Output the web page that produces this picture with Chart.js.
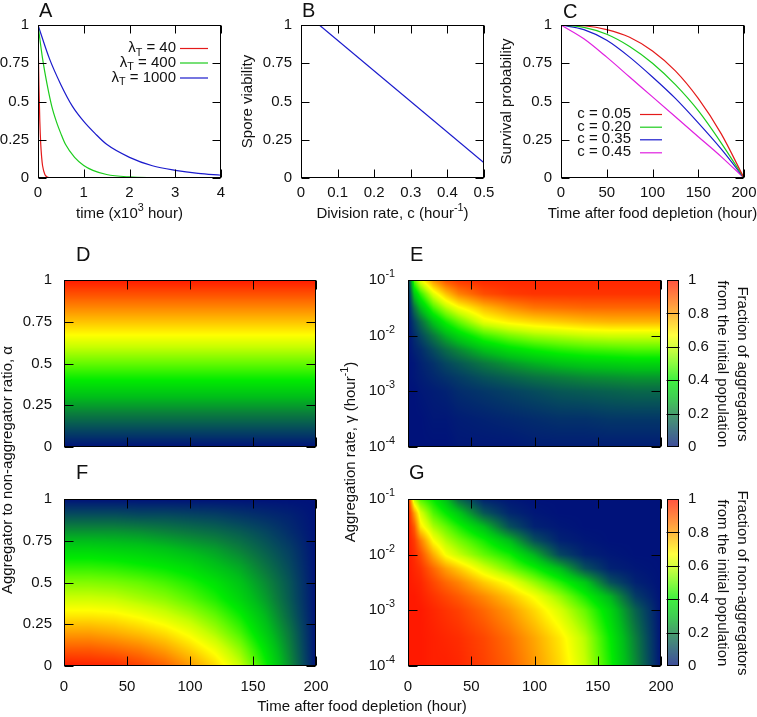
<!DOCTYPE html>
<html>
<head>
<meta charset="utf-8">
<script src="https://cdn.jsdelivr.net/npm/chart.js@4.4.0/dist/chart.umd.min.js"></script>
<style>
  body { margin: 0; background: #fff; }
  #wrap { position: relative; width: 757px; height: 717px; }
  #wrap canvas { position: absolute; left: 0; top: 0; }
</style>
</head>
<body>
<div id="wrap"></div>
<script>
const W = 757, H = 717;
const FONT = '"Liberation Sans", Arial, sans-serif';
const FS = 15;

// ---- A: spore viability vs time (x10^3 hour)
const lambdaT = [40, 400, 1000];
const timeA40 = [0, 0.01, 0.02, 0.04, 0.06, 0.08, 0.1, 0.15, 0.2, 0.25, 0.3];
const viabA40 = [1, 0.78, 0.61, 0.37, 0.22, 0.135, 0.08, 0.023, 0.007, 0.002, 0];
const timeA400 = [0, 0.1, 0.2, 0.3, 0.4, 0.5, 0.6, 0.8, 1, 1.2, 1.5, 2, 2.5, 3];
const viabA400 = [1, 0.78, 0.61, 0.47, 0.37, 0.29, 0.22, 0.135, 0.082, 0.05, 0.023, 0.007, 0.002, 0];
const timeA1000 = [0, 0.25, 0.5, 0.75, 1, 1.25, 1.5, 2, 2.5, 3, 3.5, 4];
const viabA1000 = [1, 0.78, 0.61, 0.47, 0.37, 0.29, 0.22, 0.135, 0.08, 0.05, 0.03, 0.018];

// ---- B: spore viability vs division rate
const divRateB = [0.05, 0.5];
const viabB = [1, 0.1];

// ---- C: survival probability vs time after food depletion
const divRatesC = ['0.05', '0.20', '0.35', '0.45'];
const timeC = [0, 25, 50, 75, 100, 125, 150, 175, 200];
const survC05 = [1, 0.995, 0.97, 0.92, 0.83, 0.7, 0.52, 0.29, 0];
const survC20 = [1, 0.985, 0.94, 0.86, 0.75, 0.61, 0.44, 0.23, 0];
const survC35 = [1, 0.97, 0.9, 0.79, 0.66, 0.52, 0.36, 0.19, 0];
const survC45 = [1, 0.91, 0.79, 0.66, 0.53, 0.4, 0.27, 0.14, 0];

// ---- D/F: grids over time x aggregator ratio alpha
const ratioTime = [0, 20, 40, 60, 80, 100, 120, 140, 160, 180, 200];
const ratioAlpha = [0, 0.1, 0.2, 0.3, 0.4, 0.5, 0.6, 0.7, 0.8, 0.9, 1];
const aggFracD = [0, 0.1, 0.2, 0.3, 0.4, 0.5, 0.6, 0.7, 0.8, 0.9, 1];
const nonAggFracF = [
  [1, 0.99, 0.98, 0.94, 0.89, 0.81, 0.72, 0.6, 0.42, 0.22, 0],
  [0.9, 0.9, 0.88, 0.85, 0.8, 0.73, 0.65, 0.54, 0.38, 0.2, 0],
  [0.8, 0.8, 0.78, 0.75, 0.71, 0.65, 0.57, 0.47, 0.33, 0.18, 0],
  [0.7, 0.7, 0.69, 0.66, 0.62, 0.57, 0.5, 0.41, 0.29, 0.15, 0],
  [0.61, 0.61, 0.6, 0.57, 0.54, 0.49, 0.43, 0.35, 0.25, 0.13, 0],
  [0.53, 0.53, 0.52, 0.5, 0.47, 0.43, 0.38, 0.31, 0.22, 0.12, 0],
  [0.44, 0.44, 0.43, 0.41, 0.39, 0.36, 0.31, 0.26, 0.18, 0.1, 0],
  [0.35, 0.35, 0.34, 0.33, 0.31, 0.28, 0.25, 0.2, 0.14, 0.08, 0],
  [0.24, 0.24, 0.24, 0.23, 0.21, 0.19, 0.17, 0.14, 0.1, 0.05, 0],
  [0.12, 0.12, 0.12, 0.11, 0.11, 0.1, 0.09, 0.07, 0.05, 0.03, 0],
  [0, 0, 0, 0, 0, 0, 0, 0, 0, 0, 0]
];

// ---- E/G: grids over time x log10(aggregation rate)
const heatTime = [0, 5, 10, 20, 30, 40, 60, 80, 100, 120, 140, 160, 180, 200];
const heatLogRate = [-4, -3.5, -3, -2.75, -2.5, -2.25, -2, -1.75, -1.5, -1.25, -1];
const aggFracE = [
  [0, 0, 0, 0, 0, 0.01, 0.01, 0.01, 0.02, 0.02, 0.02, 0.02, 0.02, 0.02],
  [0, 0, 0, 0.01, 0.01, 0.02, 0.03, 0.04, 0.05, 0.06, 0.06, 0.07, 0.07, 0.07],
  [0, 0, 0.01, 0.02, 0.03, 0.05, 0.07, 0.09, 0.11, 0.13, 0.14, 0.15, 0.16, 0.16],
  [0, 0.01, 0.02, 0.04, 0.06, 0.08, 0.12, 0.15, 0.18, 0.2, 0.22, 0.23, 0.24, 0.24],
  [0, 0.01, 0.03, 0.06, 0.1, 0.13, 0.19, 0.24, 0.28, 0.31, 0.33, 0.34, 0.35, 0.35],
  [0, 0.03, 0.05, 0.11, 0.17, 0.22, 0.31, 0.37, 0.41, 0.44, 0.46, 0.47, 0.48, 0.48],
  [0, 0.05, 0.1, 0.19, 0.28, 0.35, 0.46, 0.52, 0.56, 0.58, 0.6, 0.61, 0.61, 0.61],
  [0, 0.09, 0.17, 0.31, 0.42, 0.5, 0.64, 0.69, 0.72, 0.74, 0.76, 0.77, 0.77, 0.77],
  [0, 0.18, 0.3, 0.47, 0.58, 0.66, 0.76, 0.82, 0.86, 0.87, 0.88, 0.88, 0.88, 0.88],
  [0, 0.32, 0.45, 0.63, 0.75, 0.84, 0.92, 0.95, 0.96, 0.96, 0.96, 0.96, 0.96, 0.96],
  [0, 0.5, 0.65, 0.82, 0.92, 0.96, 0.98, 0.98, 0.98, 0.98, 0.98, 0.98, 0.98, 0.98]
];
const nonAggFracG = [
  [1, 1, 1, 0.99, 0.99, 0.98, 0.94, 0.89, 0.81, 0.72, 0.6, 0.42, 0.22, 0],
  [1, 1, 1, 0.99, 0.98, 0.97, 0.93, 0.87, 0.79, 0.7, 0.58, 0.4, 0.2, 0],
  [1, 1, 1, 0.98, 0.96, 0.94, 0.88, 0.81, 0.72, 0.62, 0.5, 0.35, 0.15, 0],
  [1, 1, 0.99, 0.96, 0.93, 0.9, 0.83, 0.75, 0.66, 0.55, 0.42, 0.28, 0.08, 0],
  [1, 0.99, 0.98, 0.93, 0.88, 0.84, 0.74, 0.66, 0.55, 0.44, 0.32, 0.12, 0.03, 0],
  [1, 0.98, 0.96, 0.88, 0.8, 0.74, 0.62, 0.52, 0.42, 0.3, 0.12, 0.03, 0.01, 0],
  [1, 0.97, 0.92, 0.78, 0.66, 0.6, 0.5, 0.42, 0.28, 0.1, 0.03, 0.01, 0, 0],
  [1, 0.95, 0.85, 0.67, 0.58, 0.52, 0.42, 0.3, 0.12, 0.03, 0.01, 0, 0, 0],
  [1, 0.9, 0.7, 0.57, 0.5, 0.43, 0.3, 0.12, 0.03, 0.01, 0, 0, 0, 0],
  [1, 0.8, 0.62, 0.48, 0.4, 0.32, 0.13, 0.04, 0.01, 0, 0, 0, 0, 0],
  [1, 0.58, 0.48, 0.4, 0.3, 0.16, 0.03, 0.01, 0, 0, 0, 0, 0, 0]
];

// tick values
const ticksA = [0, 1, 2, 3, 4];
const ticksQuarter = [0, 0.25, 0.5, 0.75, 1];
const ticksB = [0, 0.1, 0.2, 0.3, 0.4, 0.5];
const ticksTime = [0, 50, 100, 150, 200];
const ticksRate = [1e-4, 1e-3, 1e-2, 1e-1];
const ticksBar = [0, 0.2, 0.4, 0.6, 0.8, 1];
const linesBar = [0.2, 0.4, 0.6, 0.8];

// palette (value -> rgb)
const colorStops = [
  [0.00, [0, 18, 122]],
  [0.10, [5, 70, 95]],
  [0.20, [10, 125, 60]],
  [0.30, [0, 190, 25]],
  [0.40, [0, 235, 0]],
  [0.50, [100, 250, 0]],
  [0.60, [200, 255, 0]],
  [0.67, [255, 255, 0]],
  [0.75, [255, 195, 0]],
  [0.82, [255, 145, 0]],
  [0.90, [255, 90, 0]],
  [1.00, [255, 25, 0]]
];

function colorFor(v) {
  v = Math.max(0, Math.min(1, v));
  for (let i = 0; i < colorStops.length - 1; i++) {
    const [v0, c0] = colorStops[i], [v1, c1] = colorStops[i + 1];
    if (v <= v1) {
      const f = (v - v0) / (v1 - v0);
      return [0, 1, 2].map(k => c0[k] + (c1[k] - c0[k]) * f);
    }
  }
  return colorStops[colorStops.length - 1][1];
}

function locate(nodes, v) {
  if (v <= nodes[0]) return [0, 0];
  for (let i = 0; i < nodes.length - 1; i++) {
    if (v <= nodes[i + 1]) return [i, (v - nodes[i]) / (nodes[i + 1] - nodes[i])];
  }
  return [nodes.length - 2, 1];
}

function font(px) { return px + 'px ' + FONT; }

// text as [[str, kind]...], kind 1 = superscript, -1 = subscript
function drawRich(ctx, p, x, y, size, align) {
  const parts = typeof p === 'string' ? [[p, 0]] : p;
  let w = 0;
  for (const [t, k] of parts) { ctx.font = font(k ? size * 0.72 : size); w += ctx.measureText(t).width; }
  let cx = align === 'right' ? x - w : align === 'center' ? x - w / 2 : x;
  ctx.textAlign = 'left';
  ctx.textBaseline = 'middle';
  for (const [t, k] of parts) {
    ctx.font = font(k ? size * 0.72 : size);
    ctx.fillText(t, cx, y + (k > 0 ? -size * 0.4 : k < 0 ? size * 0.32 : 0));
    cx += ctx.measureText(t).width;
  }
}

function tickLabel(v, fmt) {
  if (fmt === 'log') return [['10', 0], [String(Math.round(Math.log10(v))), 1]];
  return String(v);
}

function series(xs, ys, color) {
  return {
    data: xs.map((v, i) => ({ x: v, y: ys[i] })),
    borderColor: color, borderWidth: 1.2, showLine: true, pointRadius: 0,
    cubicInterpolationMode: 'monotone', fill: false
  };
}

const red = '#e41a1a', green = '#1ccc1c', blue = '#1a1acc', magenta = '#e020e0';
const hourInv = [['hour', 0], ['-1', 1], [')', 0]];

const panels = {
  cA: {
    area: [38, 25, 221, 178], xRange: [0, 4], yRange: [0, 1], tick: 8,
    xTicks: ticksA, yTicks: ticksQuarter, xLabelY: 193, yLabelX: 29,
    letter: ['A', 39, 17],
    datasets: [series(timeA40, viabA40, red), series(timeA400, viabA400, green), series(timeA1000, viabA1000, blue)],
    legend: { right: 176, x0: 180, x1: 208, rows: [48, 62.5, 77.5],
      labels: lambdaT.map(l => [['λ', 0], ['T', -1], [' = ' + l, 0]]) },
    texts: [{ p: [['time (x10', 0], ['3', 1], [' hour)', 0]], x: 129.5, y: 214 }]
  },
  cB: {
    area: [301, 25, 484, 178], xRange: [0, 0.5], yRange: [0, 1], tick: 8,
    xTicks: ticksB, yTicks: ticksQuarter, xLabelY: 193, yLabelX: 292,
    letter: ['B', 302, 17],
    datasets: [series(divRateB, viabB, blue)],
    texts: [
      { p: [['Division rate, c (', 0]].concat(hourInv), x: 392.5, y: 214 },
      { p: 'Spore viability', x: 248, y: 101.5, rot: -1 }
    ]
  },
  cC: {
    area: [561, 25, 744, 178], xRange: [0, 200], yRange: [0, 1], tick: 8,
    xTicks: ticksTime, yTicks: ticksQuarter, xLabelY: 193, yLabelX: 552,
    letter: ['C', 563, 18],
    datasets: [series(timeC, survC05, red), series(timeC, survC20, green), series(timeC, survC35, blue), series(timeC, survC45, magenta)],
    legend: { right: 631, x0: 640, x1: 662, rows: [114, 126.7, 139.3, 152.3],
      labels: divRatesC.map(c => 'c = ' + c) },
    texts: [
      { p: 'Time after food depletion (hour)', x: 652.5, y: 214 },
      { p: 'Survival probability', x: 507, y: 101.5, rot: -1 }
    ]
  },
  cD: {
    area: [64, 280, 316, 447], xRange: [0, 200], yRange: [0, 1], tick: 9,
    xTicks: ticksTime, yTicks: ticksQuarter, yLabelX: 52,
    letter: ['D', 76, 261],
    heat: { xs: ratioTime, ys: ratioAlpha, grid: aggFracD.map(v => ratioTime.map(() => v)) },
    texts: [{ p: 'Aggregator to non-aggregator ratio, α', x: 8, y: 470, rot: -1 }]
  },
  cE: {
    area: [408, 280, 661, 447], xRange: [0, 200], yRange: [1e-4, 1e-1], logY: true, tick: 9,
    xTicks: ticksTime, yTicks: ticksRate, yLabelX: 395, yFmt: 'log',
    letter: ['E', 410, 261],
    heat: { xs: heatTime, ys: heatLogRate, grid: aggFracE, logY: true },
    texts: [{ p: [['Aggregation rate, γ (', 0]].concat(hourInv), x: 351, y: 452, rot: -1 }]
  },
  cF: {
    area: [64, 499, 316, 666], xRange: [0, 200], yRange: [0, 1], tick: 9,
    xTicks: ticksTime, yTicks: ticksQuarter, xLabelY: 687, yLabelX: 52,
    letter: ['F', 76, 479],
    heat: { xs: ratioTime, ys: ratioAlpha, grid: nonAggFracF }
  },
  cG: {
    area: [408, 499, 661, 666], xRange: [0, 200], yRange: [1e-4, 1e-1], logY: true, tick: 9,
    xTicks: ticksTime, yTicks: ticksRate, xLabelY: 687, yLabelX: 395, yFmt: 'log',
    letter: ['G', 409, 479],
    heat: { xs: heatTime, ys: heatLogRate, grid: nonAggFracG, logY: true },
    texts: [{ p: 'Time after food depletion (hour)', x: 362, y: 707 }]
  },
  cbE: {
    area: [667, 280, 679, 447], xRange: [0, 1], yRange: [0, 1], tick: 12,
    yTicks: linesBar, yLabelValues: ticksBar, yLabelX: 688, yAlign: 'left', bar: true,
    texts: [
      { p: 'Fraction of aggregators', x: 742, y: 364, rot: 1 },
      { p: 'from the initial population', x: 722, y: 364, rot: 1 }
    ]
  },
  cbG: {
    area: [667, 499, 679, 666], xRange: [0, 1], yRange: [0, 1], tick: 12,
    yTicks: linesBar, yLabelValues: ticksBar, yLabelX: 688, yAlign: 'left', bar: true,
    texts: [
      { p: 'Fraction of non-aggregators', x: 742, y: 583, rot: 1 },
      { p: 'from the initial population', x: 722, y: 583, rot: 1 }
    ]
  }
};

const heatPlugin = {
  id: 'heat',
  beforeDatasetsDraw(chart) {
    const cfg = panels[chart.canvas.id];
    if (!cfg.heat) return;
    const { xs, ys, grid, logY } = cfg.heat;
    const { ctx, chartArea: a, scales: { x, y } } = chart;
    const left = Math.round(a.left), top = Math.round(a.top);
    const w = Math.round(a.right) - left, h = Math.round(a.bottom) - top;
    const img = ctx.createImageData(w, h);
    const cols = [];
    for (let i = 0; i < w; i++) cols.push(locate(xs, x.getValueForPixel(left + i + 0.5)));
    for (let j = 0; j < h; j++) {
      let v = y.getValueForPixel(top + j + 0.5);
      if (logY) v = Math.log10(v);
      const [r, fr] = locate(ys, v);
      for (let i = 0; i < w; i++) {
        const [c, fc] = cols[i];
        const z0 = grid[r][c] * (1 - fc) + grid[r][c + 1] * fc;
        const z1 = grid[r + 1][c] * (1 - fc) + grid[r + 1][c + 1] * fc;
        const col = colorFor(z0 * (1 - fr) + z1 * fr);
        const k = (j * w + i) * 4;
        img.data[k] = col[0]; img.data[k + 1] = col[1]; img.data[k + 2] = col[2]; img.data[k + 3] = 255;
      }
    }
    ctx.putImageData(img, left, top);
  }
};

const barPlugin = {
  id: 'bar',
  beforeDatasetsDraw(chart) {
    const cfg = panels[chart.canvas.id];
    if (!cfg.bar) return;
    const { ctx, chartArea: a, scales: { y } } = chart;
    for (let py = Math.round(a.top); py < Math.round(a.bottom); py++) {
      const c = colorFor(y.getValueForPixel(py + 0.5)).map(k => Math.round(k * 0.75 + 255 * 0.25));
      ctx.fillStyle = 'rgb(' + c.join(',') + ')';
      ctx.fillRect(a.left, py, a.right - a.left, 1);
    }
  }
};

const framePlugin = {
  id: 'frame',
  afterDraw(chart) {
    const cfg = panels[chart.canvas.id];
    const { ctx, chartArea: a, scales: { x, y } } = chart;
    const l = Math.round(a.left) + 0.5, r = Math.round(a.right) - 0.5;
    const t = Math.round(a.top) + 0.5, b = Math.round(a.bottom) - 0.5;
    ctx.save();
    ctx.strokeStyle = '#000';
    ctx.fillStyle = '#111';
    ctx.lineWidth = 1;
    ctx.beginPath();
    (cfg.xTicks || []).forEach(v => {
      const px = Math.round(x.getPixelForValue(v)) + 0.5;
      ctx.moveTo(px, b); ctx.lineTo(px, b - cfg.tick);
      ctx.moveTo(px, t); ctx.lineTo(px, t + cfg.tick);
    });
    (cfg.yTicks || []).forEach(v => {
      const py = Math.round(y.getPixelForValue(v)) + 0.5;
      ctx.moveTo(l, py); ctx.lineTo(l + cfg.tick, py);
      ctx.moveTo(r, py); ctx.lineTo(r - cfg.tick, py);
    });
    ctx.stroke();
    ctx.strokeRect(l, t, r - l, b - t);

    if (cfg.xLabelY) cfg.xTicks.forEach(v =>
      drawRich(ctx, tickLabel(v, cfg.xFmt), x.getPixelForValue(v), cfg.xLabelY, FS, 'center'));
    if (cfg.yLabelX) (cfg.yLabelValues || cfg.yTicks).forEach(v =>
      drawRich(ctx, tickLabel(v, cfg.yFmt), cfg.yLabelX, y.getPixelForValue(v), FS, cfg.yAlign || 'right'));

    if (cfg.legend) {
      const lg = cfg.legend;
      lg.labels.forEach((lab, i) => {
        ctx.fillStyle = '#111';
        drawRich(ctx, lab, lg.right, lg.rows[i], FS, 'right');
        ctx.strokeStyle = chart.data.datasets[i].borderColor;
        ctx.lineWidth = 1.2;
        ctx.beginPath();
        ctx.moveTo(lg.x0, lg.rows[i] + 0.5);
        ctx.lineTo(lg.x1, lg.rows[i] + 0.5);
        ctx.stroke();
      });
    }

    ctx.fillStyle = '#111';
    if (cfg.letter) {
      ctx.font = font(20);
      ctx.textAlign = 'left';
      ctx.textBaseline = 'alphabetic';
      ctx.fillText(cfg.letter[0], cfg.letter[1], cfg.letter[2]);
    }
    (cfg.texts || []).forEach(tx => {
      ctx.save();
      ctx.translate(tx.x, tx.y);
      if (tx.rot) ctx.rotate(tx.rot * Math.PI / 2);
      drawRich(ctx, tx.p, 0, 0, FS, 'center');
      ctx.restore();
    });
    ctx.restore();
  }
};

const wrap = document.getElementById('wrap');
for (const id in panels) {
  const cfg = panels[id];
  const canvas = document.createElement('canvas');
  canvas.id = id;
  canvas.width = W;
  canvas.height = H;
  wrap.appendChild(canvas);
  const [x0, y0, x1, y1] = cfg.area;
  new Chart(canvas, {
    type: 'scatter',
    data: { datasets: cfg.datasets || [] },
    options: {
      responsive: false,
      animation: false,
      devicePixelRatio: 1,
      layout: { padding: { left: x0, top: y0, right: W - x1, bottom: H - y1 } },
      scales: {
        x: { type: 'linear', min: cfg.xRange[0], max: cfg.xRange[1], display: false },
        y: { type: cfg.logY ? 'logarithmic' : 'linear', min: cfg.yRange[0], max: cfg.yRange[1], display: false }
      },
      plugins: { legend: { display: false }, tooltip: { enabled: false } }
    },
    plugins: [heatPlugin, barPlugin, framePlugin]
  });
}
</script>
</body>
</html>
